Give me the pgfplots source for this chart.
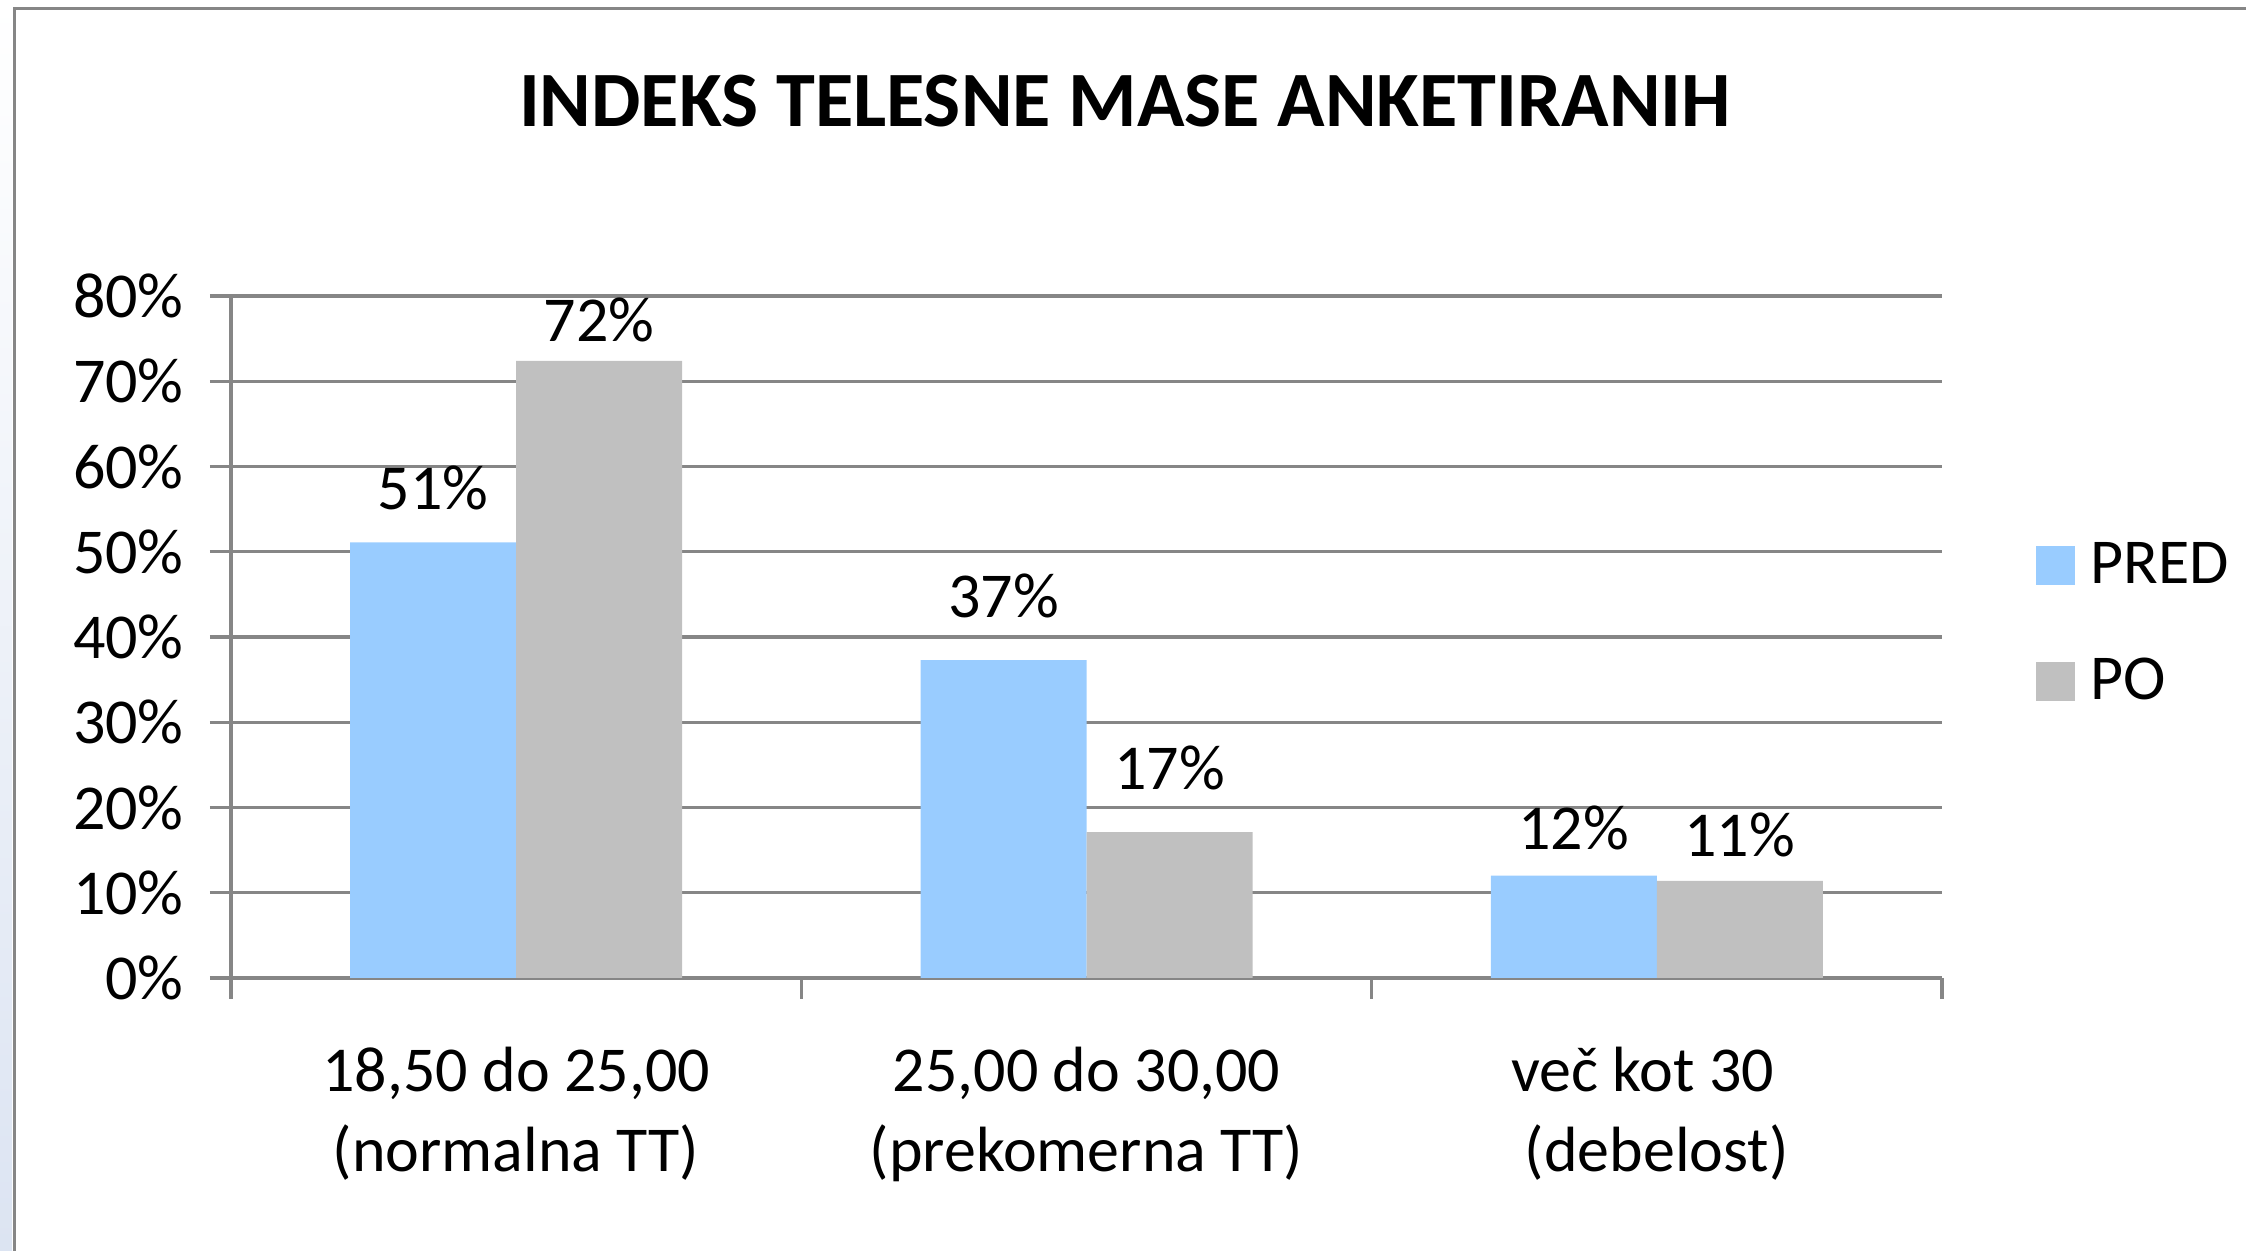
\documentclass[border=0pt]{standalone}
\usepackage{fontspec}
\setmainfont{Carlito}
\usepackage{pgfplots}
\usepackage{pgfplotstable}
\pgfplotsset{compat=1.18}
\definecolor{pred}{RGB}{153,204,255}
\definecolor{po}{RGB}{192,192,192}
\definecolor{gridgray}{RGB}{134,134,134}
\pgfplotsset{sqlegend/.style={legend image code/.code={\fill[##1] (0mm,-1.95mm) rectangle (3.9mm,1.95mm);}}}
\newcommand{\lbl}{\fontsize{18.2}{22.8}\selectfont}

% x, value, extra lift of the data label (mm)
\pgfplotstableread{
x  y     lift
0  51.1  2.0
1  37.3  3.0
2  12.0  1.3
}\pred
\pgfplotstableread{
x  y     lift
0  72.4  0.6
1  17.1  3.0
2  11.4  1.1
}\po

\begin{document}
\begin{tikzpicture}[x=1mm,y=1mm]
\shade[top color=white, bottom color={rgb,255:red,220;green,228;blue,242}] (0,0) rectangle (1.2,125.1);
\draw[gridgray, line width=0.3mm] (1.4,-1) -- (1.4,124.2) -- (226,124.2);
\node[font=\fontsize{22.3}{26}\selectfont\bfseries, anchor=base] at (112.5,112.4) {INDEKS TELESNE MASE ANKETIRANIH};
\begin{axis}[
    at={(23.1mm,27.3mm)}, anchor=south west,
    scale only axis, width=171.1mm, height=68.2mm,
    xmin=-0.5, xmax=2.5, ymin=0, ymax=80,
    ybar=0pt, bar width=16.6mm,
    axis x line*=bottom, axis y line*=left,
    axis line style={gridgray, line width=0.33mm, -},
    ymajorgrids, grid style={gridgray, line width=0.33mm},
    tick align=outside, major tick length=2.1mm,
    tick style={gridgray, line width=0.33mm},
    ytick={0,10,...,80},
    yticklabel={\pgfmathparse{int(round(\tick))}\pgfmathresult\%},
    yticklabel style={xshift=-1.4mm},
    xtick={-0.5,0.5,1.5,2.5}, xticklabels={},
    extra x ticks={0,1,2},
    extra x tick labels={{18,50 do 25,00\\(normalna TT)},{25,00 do 30,00\\(prekomerna TT)},{več kot 30\hspace*{2.8mm}\\(debelost)}},
    extra x tick style={major tick length=0pt},
    tick label style={font=\lbl, text=black},
    xticklabel style={align=center, yshift=-5.7mm},
    visualization depends on={\thisrow{lift} \as \lift},
    nodes near coords={\pgfmathprintnumber[fixed,precision=0,assume math mode=true]{\pgfplotspointmeta}\%},
    every node near coord/.append style={font=\lbl, text=black, yshift=\lift mm},
    legend style={draw=none, fill=none, at={(1.0486,0.52)}, anchor=west, font=\lbl, row sep=5.5mm,
        /tikz/every odd column/.append style={column sep=0.8mm}},
    legend cell align=left,
]
\addplot[fill=pred, draw=none, sqlegend] table[x=x, y=y] {\pred};
\addplot[fill=po, draw=none, sqlegend] table[x=x, y=y] {\po};
\legend{PRED,PO}
\end{axis}
\pgfresetboundingbox
\useasboundingbox (0,0) rectangle (224.6,125.1);
\end{tikzpicture}
\end{document}
